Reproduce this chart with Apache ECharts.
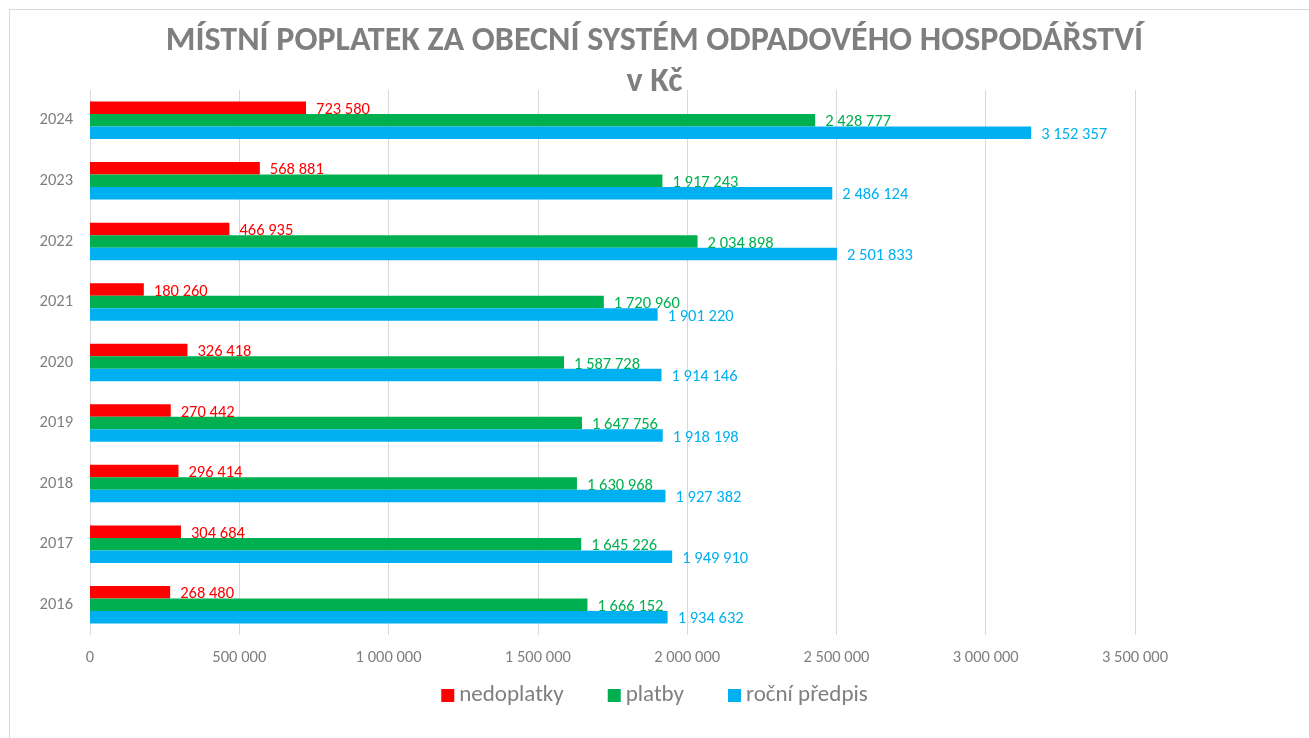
<!DOCTYPE html>
<html>
<head>
<meta charset="utf-8">
<script src="https://cdn.jsdelivr.net/npm/echarts@6/dist/echarts.min.js"></script>
<style>
  html, body { margin: 0; padding: 0; background: #fff; }
  #frame { position: absolute; left: 9px; top: 9px; width: 1320px; height: 740px; border-left: 1px solid #d9d9d9; border-top: 1px solid #d9d9d9; }
  #chart { position: absolute; left: 0; top: 0; width: 1309px; height: 738px; }
</style>
</head>
<body>
<div id="frame"></div>
<div id="chart"></div>
<script>
const years = ["2016", "2017", "2018", "2019", "2020", "2021", "2022", "2023", "2024"];
const nedoplatky = [268480, 304684, 296414, 270442, 326418, 180260, 466935, 568881, 723580];
const platby = [1666152, 1645226, 1630968, 1647756, 1587728, 1720960, 2034898, 1917243, 2428777];
const rocniPredpis = [1934632, 1949910, 1927382, 1918198, 1914146, 1901220, 2501833, 2486124, 3152357];
const axisMax = 3500000;
const axisStep = 500000;

const colors = { nedoplatky: "#ff0000", platby: "#00b050", predpis: "#00b0f0" };
const font = "Calibri, Carlito, 'Open Sans', 'Liberation Sans', sans-serif";

function fmt(v) {
  return String(v).replace(/\B(?=(\d{3})+(?!\d))/g, " ");
}

function barSeries(name, data, color) {
  return {
    name,
    type: "bar",
    data,
    barWidth: 12.5,
    barGap: "0%",
    itemStyle: { color },
    label: {
      show: true,
      position: "right",
      distance: 10,
      offset: [0, 2],
      color,
      fontSize: 16.5,
      fontFamily: font,
      formatter: (p) => fmt(p.value),
    },
  };
}

const chart = echarts.init(document.querySelector("#chart"));
chart.setOption({
  animation: false,
  backgroundColor: "transparent",
  title: {
    text: "MÍSTNÍ POPLATEK ZA OBECNÍ SYSTÉM ODPADOVÉHO HOSPODÁŘSTVÍ\nv Kč",
    left: "center",
    top: 16,
    textStyle: {
      color: "#7f7f7f",
      fontSize: 34,
      fontWeight: "bold",
      fontFamily: font,
      lineHeight: 41,
    },
  },
  legend: {
    bottom: 26,
    left: "center",
    itemWidth: 13,
    itemHeight: 13,
    itemGap: 44,
    icon: "rect",
    textStyle: { color: "#7f7f7f", fontSize: 23, fontFamily: font },
    data: ["nedoplatky", "platby", "roční předpis"],
  },
  grid: { left: 90, right: 174, top: 90, bottom: 103, containLabel: false },
  xAxis: {
    type: "value",
    min: 0,
    max: axisMax,
    interval: axisStep,
    axisLine: { show: false },
    axisTick: { show: false },
    axisLabel: { color: "#7f7f7f", fontSize: 16.5, fontFamily: font, margin: 14, formatter: fmt },
    splitLine: { lineStyle: { color: "#d9d9d9", width: 1 } },
  },
  yAxis: {
    type: "category",
    data: years,
    axisLine: { show: false },
    axisTick: { show: false },
    axisLabel: { color: "#7f7f7f", fontSize: 16.5, fontFamily: font, margin: 17 },
  },
  series: [
    barSeries("nedoplatky", nedoplatky, colors.nedoplatky),
    barSeries("platby", platby, colors.platby),
    barSeries("roční předpis", rocniPredpis, colors.predpis),
  ],
});
</script>
</body>
</html>
